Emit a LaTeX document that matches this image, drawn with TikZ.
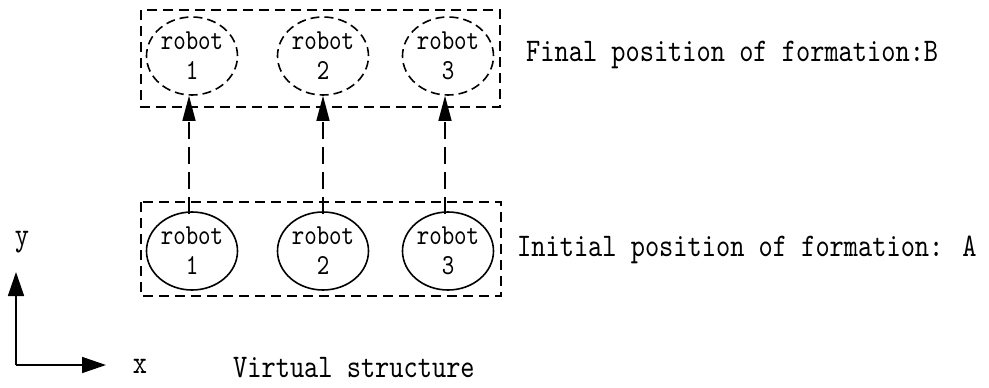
\documentclass[tikz,border=0pt]{standalone}
\usepackage{fontspec}
\setmainfont{lmmono10-regular.otf}[FakeStretch=0.82]
\usetikzlibrary{arrows.meta,shapes.geometric}
\begin{document}
\begin{tikzpicture}[x=1pt,y=-1pt,
  robotA/.style={draw,line width=1.6pt,ellipse,minimum width=91pt,minimum height=78pt,inner sep=0pt,align=center,font=\fontsize{29}{30}\selectfont},
  robotB/.style={robotA,dash pattern=on 9pt off 5pt},
  framebox/.style={draw,line width=1.6pt,dash pattern=on 10pt off 6pt,inner sep=0pt},
  move/.style={line width=1.4pt,dash pattern=on 17pt off 8pt,-{Triangle[length=25pt,width=13pt]}},
  axis/.style={line width=1.6pt,-{Triangle[length=24pt,width=16pt]}},
  lbl/.style={font=\fontsize{33}{36}\selectfont,inner sep=0pt,anchor=west}]
\useasboundingbox (0,0) rectangle (989,388);
% frames
\draw[framebox] (141,10) rectangle (500,107);
\draw[framebox] (141,202) rectangle (501,296);
% robots at B
\node[robotB] (b1) at (192,56) {robot\\1};
\node[robotB] (b2) at (323,56) {robot\\2};
\node[robotB] (b3) at (448,56) {robot\\3};
% robots at A
\node[robotA] (a1) at (192,251) {robot\\1};
\node[robotA] (a2) at (323,251) {robot\\2};
\node[robotA] (a3) at (448,251) {robot\\3};
% moves
\draw[move] ([xshift=-3pt,yshift=-3pt]a1.north) -- ([xshift=-3pt]b1.south);
\draw[move] ([yshift=-3pt]a2.north) -- (b2.south);
\draw[move] ([xshift=-3pt,yshift=-3pt]a3.north) -- ([xshift=-3pt]b3.south);
% labels
\node[lbl] (lb) at (526,55) {Final position of formation:B};
\node[lbl] (la) at (517,250) {Initial position of formation: A};
\node[lbl] (lv) at (233,368) {Virtual structure};
% axes
\coordinate (o) at (16,365);
\coordinate (yt) at (16,272);
\coordinate (xt) at (106,365);
\draw[axis] (o) -- (yt);
\draw[axis] (o) -- (xt);
\node[font=\fontsize{33}{36}\selectfont,inner sep=0pt] (ly) at (22,242) {y};
\node[font=\fontsize{33}{36}\selectfont,inner sep=0pt] (lx) at (140,366) {x};
\end{tikzpicture}
\end{document}
